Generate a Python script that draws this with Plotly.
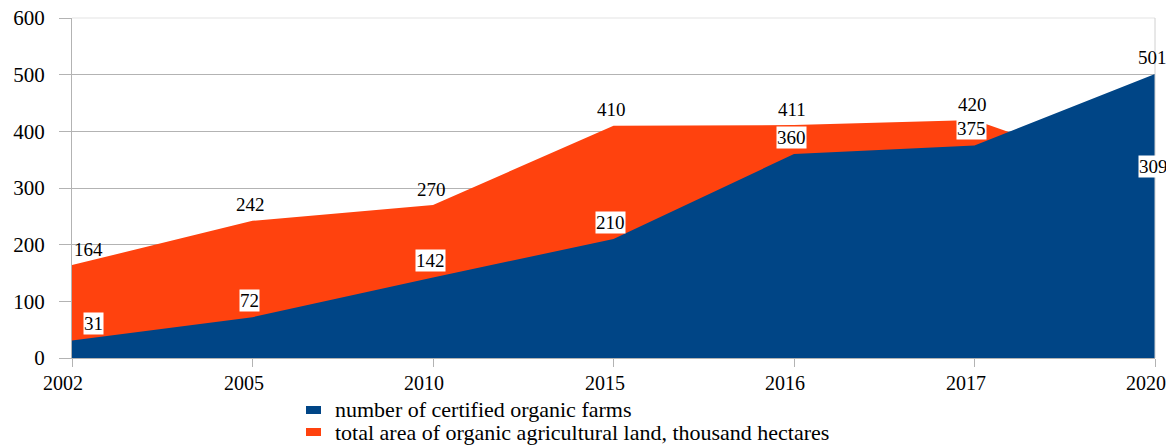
import plotly.graph_objects as go

years = ["2002", "2005", "2010", "2015", "2016", "2017", "2020"]
farms = [31, 72, 142, 210, 360, 375, 501]
land = [164, 242, 270, 410, 411, 420, 309]
farms_name = "number of certified organic farms"
land_name = "total area of organic agricultural land, thousand hectares"

BLUE = "#004586"
ORANGE = "#ff420e"
GRID = "#b3b3b3"
FONT = "Liberation Serif"

# the page places the figure 8px from the window's top-left corner
OFF = 8
W, H = 1174 - OFF, 448 - OFF
ML, MT = 72 - OFF, 18 - OFF
MR = W - (1155 - OFF)
MB = H - (358 - OFF)
PW, PH = W - ML - MR, H - MT - MB


def px(x):  # window pixel -> paper x
    return (x - OFF - ML) / PW


def py(y):  # window pixel -> paper y
    return (H - MB - (y - OFF)) / PH


fig = go.Figure()
fig.add_trace(go.Scatter(x=years, y=land, fill="tozeroy", mode="none",
                         fillcolor=ORANGE, showlegend=False, hoverinfo="skip",
                         name=land_name))
fig.add_trace(go.Scatter(x=years, y=farms, fill="tozeroy", mode="none",
                         fillcolor=BLUE, showlegend=False, hoverinfo="skip",
                         name=farms_name))

n = len(years)
for i in range(n):
    first = i == 0
    fig.add_annotation(x=i, y=land[i], xref="x", yref="y", text=str(land[i]),
                       showarrow=False, yshift=16,
                       xanchor="left" if first else "center",
                       xshift=1 if first else -2,
                       bgcolor="white" if land[i] < farms[i] else None,
                       borderpad=0,
                       font=dict(family=FONT, size=19, color="black"))
    fig.add_annotation(x=i, y=farms[i], xref="x", yref="y", text=str(farms[i]),
                       showarrow=False, yshift=17,
                       xanchor="left" if first else "center",
                       xshift=11 if first else -3,
                       bgcolor="white" if i < n - 1 else None,
                       borderpad=0,
                       font=dict(family=FONT, size=19, color="black"))
    # category labels (sit slightly left of their ticks, as in the original)
    fig.add_annotation(x=i, y=0, xref="x", yref="paper", text=years[i],
                       showarrow=False, yanchor="middle", yshift=-25, xshift=-9,
                       font=dict(family=FONT, size=20, color="black"))

# manual legend (below the plot)
for name, color, cy in [(farms_name, BLUE, 410), (land_name, ORANGE, 432)]:
    fig.add_shape(type="rect", xref="paper", yref="paper",
                  x0=px(306), x1=px(321), y0=py(cy + 4), y1=py(cy - 4),
                  fillcolor=color, line=dict(width=0))
    fig.add_annotation(xref="paper", yref="paper", x=px(333), y=py(cy),
                       xanchor="left", yanchor="middle", text=name,
                       showarrow=False,
                       font=dict(family=FONT, size=22, color="black"))

# light frame at top/right
fig.add_shape(type="line", xref="paper", yref="paper", x0=0, x1=1, y0=1, y1=1,
              line=dict(color="#e3e3e3", width=1), layer="above")
fig.add_shape(type="line", xref="paper", yref="paper", x0=1, x1=1, y0=0, y1=1,
              line=dict(color="#d0d0d0", width=1), layer="above")

fig.update_layout(
    width=W, height=H,
    margin=dict(l=ML, r=MR, t=MT, b=MB, autoexpand=False),
    paper_bgcolor="white", plot_bgcolor="white",
    font=dict(family=FONT, size=20, color="black"),
    showlegend=False,
    xaxis=dict(type="category", range=[0, n - 1], showgrid=False,
               showline=True, linecolor=GRID, linewidth=1,
               ticks="outside", ticklen=8, tickcolor=GRID,
               showticklabels=False, automargin=False, zeroline=False),
    yaxis=dict(range=[0, 600], dtick=100,
               showgrid=True, gridcolor=GRID,
               showline=True, linecolor=GRID, linewidth=1,
               ticks="outside", ticklen=12, tickcolor=GRID,
               ticklabelstandoff=10, ticklabeloverflow="allow", automargin=False,
               tickfont=dict(family=FONT, size=21, color="black"),
               zeroline=False),
)

fig.write_html("out.html")
